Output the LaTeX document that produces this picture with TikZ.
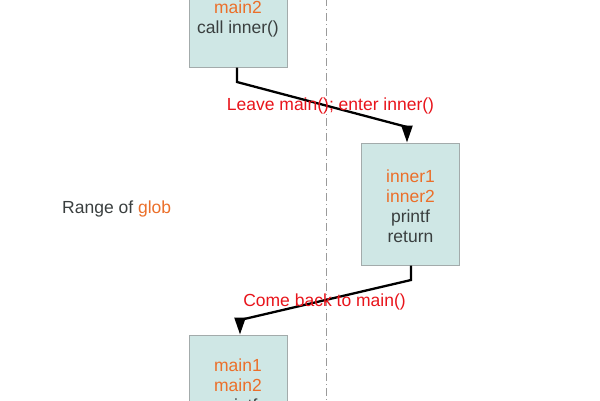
\documentclass[tikz,border=0pt]{standalone}
\usepackage{fontspec}
\setmainfont{Liberation Sans}
\usetikzlibrary{arrows.meta}
\definecolor{boxfill}{HTML}{CFE7E5}
\definecolor{boxline}{HTML}{A3ABAB}
\definecolor{orng}{HTML}{EB6F2A}
\definecolor{dtext}{HTML}{3A3F3F}
\definecolor{redt}{HTML}{E8141B}
\definecolor{axis}{HTML}{9A9A9A}
\newcommand{\topgap}{\rule{0pt}{17pt}}
\begin{document}
\begin{tikzpicture}[x=1pt,y=-1pt,
  box/.style={draw=boxline, line width=1pt, fill=boxfill, minimum width=98pt, minimum height=122pt, align=center, inner sep=0pt, font=\fontsize{17.5}{20}\selectfont, text=dtext},
  lbl/.style={font=\fontsize{17.5}{20}\selectfont, inner sep=0pt},
  flow/.style={line width=2.3pt, -{Triangle[length=17pt,width=11pt]}}]
\useasboundingbox (0,0) rectangle (600,400);
\clip (0,0) rectangle (600,400);
\draw[axis, line width=0.9pt, dash pattern=on 8pt off 3pt on 1pt off 3pt] (326,-2) coordinate (vt) -- (326,402) coordinate (vb);
\node[box] (top) at (238,6) {\rule{0pt}{18pt}\\\textcolor{orng}{main2}\\call inner()};
\node[box] (inner) at (410.5,204) {\topgap\textcolor{orng}{inner1}\\\textcolor{orng}{inner2}\\printf\\return};
\node[box] (bot) at (238,396) {\topgap\textcolor{orng}{main1}\\\textcolor{orng}{main2}\\printf\\\strut};
\draw[flow] (top.south -| 237,0) -- (237,82) -- (407,127) -- (inner.north -| 407,0);
\draw[flow] (inner.south -| 411,0) -- (411,280) -- (240,320) -- (bot.north -| 240,0);
\node[lbl, text=redt] (l1) at (330.5,106) {Leave main(); enter inner()};
\node[lbl, text=redt] (l2) at (324.5,302) {Come back to main()};
\node[lbl, text=dtext, anchor=west] (rg) at (62,209) {Range of \textcolor{orng}{glob}};
\end{tikzpicture}
\end{document}
